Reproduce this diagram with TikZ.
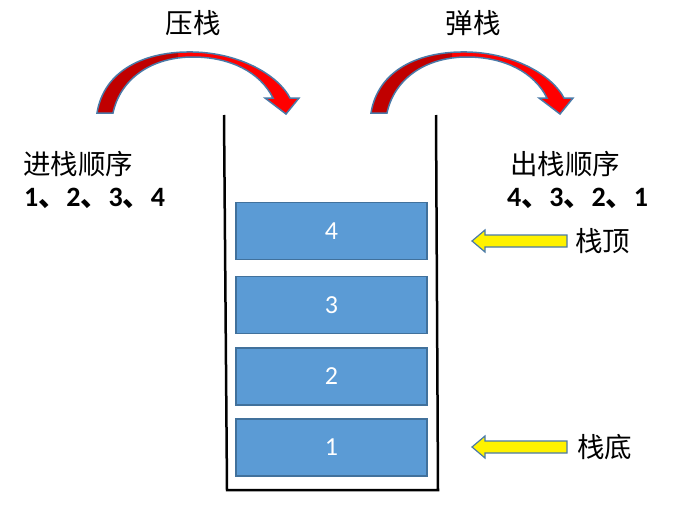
\documentclass[tikz,border=0pt]{standalone}
\usepackage{fontspec}
\setmainfont{Carlito}
\newfontfamily\cjk{Noto Sans CJK SC}
\definecolor{boxfill}{HTML}{5B9BD5}
\definecolor{boxline}{HTML}{41719C}
\definecolor{darkred}{HTML}{C00000}
\definecolor{shapeline}{HTML}{4A7AA8}
\tikzset{
  stackbox/.style={draw=boxline, line width=1.5pt, fill=boxfill, minimum width=191pt, minimum height=57pt, inner sep=0pt, text=white, font=\fontsize{26}{29}\selectfont},
  cjklabel/.style={inner sep=0pt, font=\cjk\fontsize{27.5}{31}\selectfont},
  numlabel/.style={inner sep=0pt, font=\bfseries\fontsize{28}{31}\selectfont},
  yarrow/.style={draw=shapeline, line width=1.2pt, fill=yellow, line join=miter},
  curvearrow/.style={draw=shapeline, line width=1.5pt, line join=miter},
}
\newcommand{\curvedpath}{(97,113) .. controls (104,70) and (145,51) .. (193,52) .. controls (240,53) and (278,75) .. (290,98) -- (299,98) -- (286,114) -- (265,98) -- (273,98) .. controls (260,72) and (230,57) .. (193,57) .. controls (150,57) and (120,80) .. (113,113) -- cycle}
\begin{document}
\begin{tikzpicture}[x=1pt,y=-1pt]
\useasboundingbox (0,0) rectangle (690,506);
\fill[white] (0,0) rectangle (690,506);

% curved arrows
\foreach \dx in {0,274}{
\begin{scope}[shift={(\dx,0)}]
  \fill[red] \curvedpath;
  \begin{scope}
    \clip (0,0) rectangle (178,130);
    \fill[darkred] \curvedpath;
  \end{scope}
  \draw[curvearrow] \curvedpath;
\end{scope}
}

% titles
\node[cjklabel] (push) at (193,23) {压栈};
\node[cjklabel] (pop) at (473,23) {弹栈};

% left / right texts
\node[cjklabel, anchor=west] (inorder) at (23,164) {进栈顺序};
\node[numlabel, anchor=west] (innums) at (24,198) {1{\cjk 、}2{\cjk 、}3{\cjk 、}4};
\node[cjklabel, anchor=west] (outorder) at (510,164) {出栈顺序};
\node[numlabel, anchor=west] (outnums) at (507,198) {4{\cjk 、}3{\cjk 、}2{\cjk 、}1};

% stack container
\coordinate (tl) at (224,115);
\coordinate (bl) at (227,490);
\coordinate (br) at (438,490);
\coordinate (tr) at (436,115);
\draw[line width=2.5pt, line join=miter] (tl) -- (bl) -- (br) -- (tr);

% boxes
\node[stackbox] (b4) at (331.5,231) {4};
\node[stackbox] (b3) at (331.5,305) {3};
\node[stackbox] (b2) at (331.5,376.5) {2};
\node[stackbox] (b1) at (331.5,447.5) {1};

% yellow arrows
\foreach \yy/\nm in {241/top,447/bot}{
  \draw[yarrow] (472,\yy) -- (485,\yy-11) -- (485,\yy-6) -- (567,\yy-6) -- (567,\yy+6) -- (485,\yy+6) -- (485,\yy+11) -- cycle;
}
\node[cjklabel, anchor=west] (toplbl) at (575,241) {栈顶};
\node[cjklabel, anchor=west] (botlbl) at (577,447) {栈底};
\end{tikzpicture}
\end{document}
